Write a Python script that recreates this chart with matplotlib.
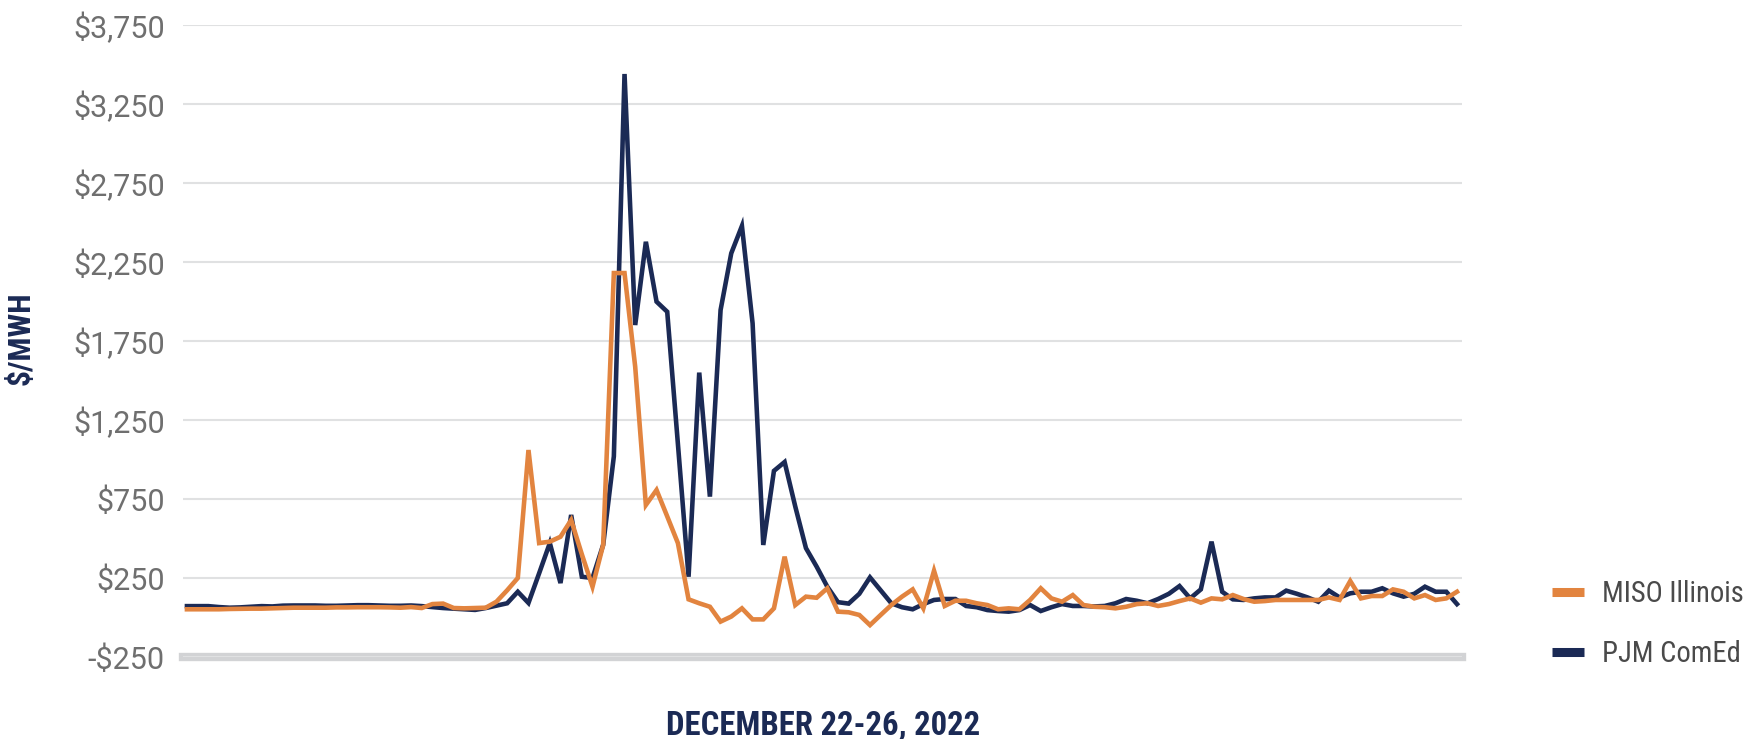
import matplotlib
matplotlib.use("Agg")
import matplotlib.pyplot as plt
from matplotlib import font_manager
from matplotlib.lines import Line2D
from matplotlib.ticker import FuncFormatter

NAVY = "#1b2a55"
ORANGE = "#e2843f"

# hourly prices, Dec 22-26 2022 ($/MWh)
pjm_comed = [
    72, 72, 72, 66, 62, 64, 68, 72, 70, 75,
    76, 76, 76, 74, 74, 76, 78, 78, 76, 74,
    74, 76, 72, 66, 60, 56, 52, 48, 60, 75,
    90, 163, 92, 280, 471, 218, 649, 258, 250, 460,
    1020, 3440, 1851, 2378, 1999, 1935, 1100, 258, 1550, 765,
    1946, 2305, 2478, 1862, 459, 928, 984, 702, 439, 322,
    195, 97, 88, 150, 254, 172, 90, 65, 52, 85,
    111, 117, 117, 73, 65, 47, 41, 37, 47, 79,
    41, 65, 85, 73, 73, 70, 73, 90, 117, 106,
    90, 117, 150, 199, 121, 178, 480, 163, 115, 111,
    121, 127, 127, 170, 150, 127, 100, 170, 127, 153,
    163, 163, 185, 153, 132, 150, 195, 163, 163, 85,
]
miso_illinois = [
    52, 52, 52, 52, 54, 55, 56, 56, 58, 60,
    62, 62, 62, 62, 64, 64, 65, 65, 65, 64,
    62, 66, 60, 85, 88, 60, 58, 60, 62, 100,
    172, 250, 1060, 471, 480, 511, 617, 400, 195, 460,
    2180, 2180, 1587, 712, 807, 640, 471, 115, 90, 68,
    -26, 6, 58, -12, -12, 58, 385, 79, 132, 125,
    185, 37, 33, 16, -48, 16, 79, 132, 178, 58,
    296, 73, 106, 106, 90, 79, 52, 58, 52, 111,
    185, 121, 100, 142, 79, 68, 65, 58, 68, 85,
    90, 73, 85, 104, 121, 94, 121, 115, 142, 117,
    100, 104, 111, 111, 111, 111, 111, 127, 111, 231,
    121, 136, 136, 178, 163, 121, 142, 111, 121, 163,
]
hours = list(range(len(pjm_comed)))
yticks = [-250, 250, 750, 1250, 1750, 2250, 2750, 3250, 3750]


def pick_family(names):
    for n in names:
        try:
            font_manager.findfont(n, fallback_to_default=False)
            return n
        except ValueError:
            pass
    return "DejaVu Sans"


cond = pick_family(["Roboto Condensed", "Noto Sans Condensed", "Liberation Sans Narrow",
                    "DejaVu Sans Condensed", "Roboto"])

W, H = 1746, 739
fig = plt.figure(figsize=(W / 100, H / 100), dpi=100)
ax = fig.add_axes([183 / W, 1 - 657 / H, (1462 - 183) / W, (657 - 25) / H])

ax.plot(hours, pjm_comed, color=NAVY, lw=3.3, solid_joinstyle="miter", zorder=3)
ax.plot(hours, miso_illinois, color=ORANGE, lw=3.3, solid_joinstyle="miter", zorder=4)

ax.set_xlim(-0.37, 119.47)
ax.set_ylim(-250, 3750)
ax.set_xticks([])
ax.set_yticks(yticks)
ax.yaxis.set_major_formatter(FuncFormatter(
    lambda v, p: ("-$" if v < 0 else "$") + format(abs(int(v)), ",")))
ax.tick_params(axis="y", length=0, pad=13, labelsize=22, labelcolor="#6f6f6f")
for lab in ax.get_yticklabels():
    lab.set_family(["Roboto", "DejaVu Sans"])
for s in ax.spines.values():
    s.set_visible(False)
ax.grid(axis="y", color="#e0e1e2", lw=1.5, zorder=0)
ax.axhline(-250, color="#d2d3d5", lw=6, clip_on=False, zorder=1)

ylab = fig.text(21 / W, 1 - 338 / H, "$/MWH", rotation=90, ha="center", va="center",
                fontsize=23, fontweight="bold", color=NAVY, family=cond)
xlab = fig.text(823 / W, 1 - 726 / H, "DECEMBER 22-26, 2022", ha="center", va="center",
                fontsize=24.5, fontweight="bold", color=NAVY, family=cond)

handles = [Line2D([], [], color=ORANGE, lw=6.5, solid_capstyle="butt"),
           Line2D([], [], color=NAVY, lw=6.5, solid_capstyle="butt")]

# shrink the titles to the widths they have in the original
fig.canvas.draw()
r = fig.canvas.get_renderer()
bb = xlab.get_window_extent(r)
xlab.set_fontsize(24.5 * 314 / bb.width)
bb = ylab.get_window_extent(r)
ylab.set_fontsize(23 * 94 / bb.height)

probe = fig.text(0, 0, "MISO Illinois", fontsize=22, family=cond)
leg_size = min(22, 22 * 142 / probe.get_window_extent(r).width)
probe.remove()

fig.legend(handles, ["MISO Illinois", "PJM ComEd"], loc="center left",
           bbox_to_anchor=(1552 / W, 1 - 624 / H), frameon=False,
           handlelength=32 / (leg_size * 100 / 72), handletextpad=18 / (leg_size * 100 / 72),
           labelspacing=1.15, borderpad=0, borderaxespad=0,
           prop={"family": cond, "size": leg_size}, labelcolor="#4a4a4a")

fig.savefig("out.png", dpi=100)
